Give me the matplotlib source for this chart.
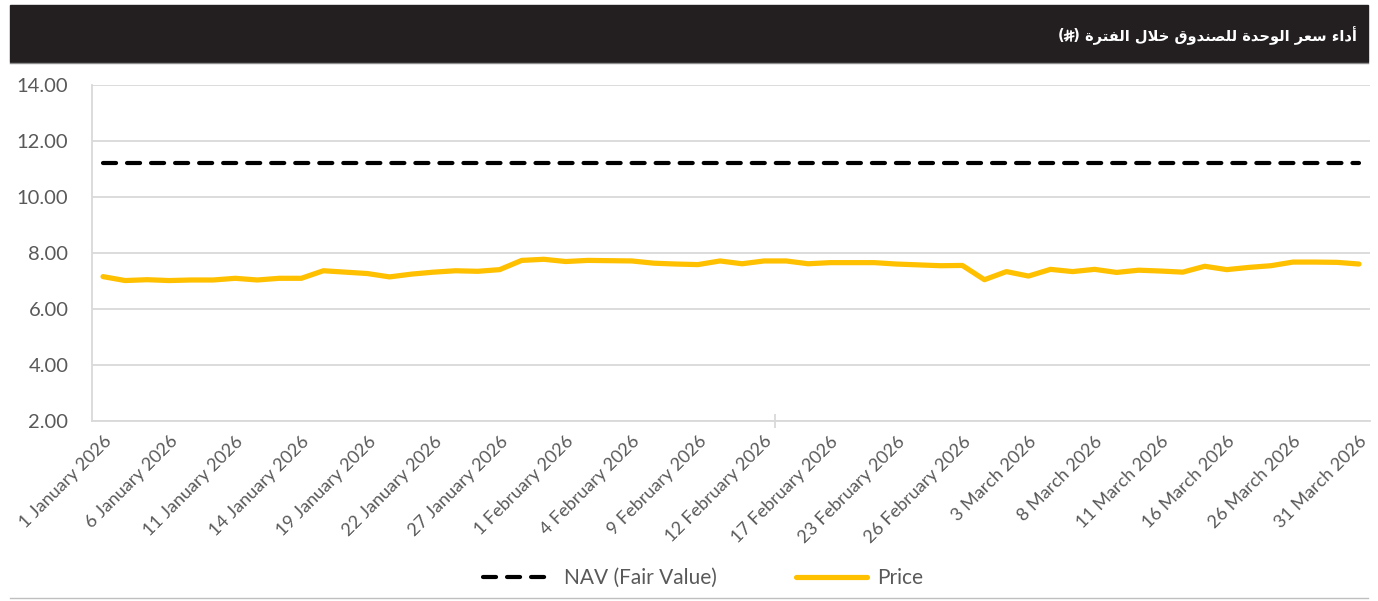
import numpy as np
import matplotlib
matplotlib.use('Agg')
from matplotlib import pyplot as plt
from matplotlib.patches import Rectangle
from matplotlib.lines import Line2D

# the riyal sign after the title has no glyph in any installed font, it is drawn with lines
title = 'أداء سعر الوحدة للصندوق خلال الفترة'

tick_labels = ['1 January 2026', '6 January 2026', '11 January 2026', '14 January 2026',
               '19 January 2026', '22 January 2026', '27 January 2026', '1 February 2026',
               '4 February 2026', '9 February 2026', '12 February 2026', '17 February 2026',
               '23 February 2026', '26 February 2026', '3 March 2026', '8 March 2026',
               '11 March 2026', '16 March 2026', '26 March 2026', '31 March 2026']

price = [7.15, 7.01, 7.04, 7.01, 7.03, 7.03, 7.09, 7.03, 7.09, 7.09,
         7.36, 7.31, 7.26, 7.14, 7.24, 7.31, 7.36, 7.34, 7.40, 7.73,
         7.77, 7.69, 7.73, 7.72, 7.71, 7.63, 7.60, 7.58, 7.71, 7.61,
         7.71, 7.71, 7.61, 7.65, 7.65, 7.65, 7.60, 7.57, 7.54, 7.55,
         7.04, 7.33, 7.17, 7.41, 7.33, 7.41, 7.30, 7.38, 7.35, 7.31,
         7.52, 7.40, 7.48, 7.54, 7.67, 7.67, 7.66, 7.60]
nav_value = 11.21

# arabic presentation forms: first form, number of forms (isolated, final, initial, medial)
FORMS = {
    'ء': (0xFE80, 1), 'آ': (0xFE81, 2), 'أ': (0xFE83, 2), 'ؤ': (0xFE85, 2), 'إ': (0xFE87, 2),
    'ئ': (0xFE89, 4), 'ا': (0xFE8D, 2), 'ب': (0xFE8F, 4), 'ة': (0xFE93, 2), 'ت': (0xFE95, 4),
    'ث': (0xFE99, 4), 'ج': (0xFE9D, 4), 'ح': (0xFEA1, 4), 'خ': (0xFEA5, 4), 'د': (0xFEA9, 2),
    'ذ': (0xFEAB, 2), 'ر': (0xFEAD, 2), 'ز': (0xFEAF, 2), 'س': (0xFEB1, 4), 'ش': (0xFEB5, 4),
    'ص': (0xFEB9, 4), 'ض': (0xFEBD, 4), 'ط': (0xFEC1, 4), 'ظ': (0xFEC5, 4), 'ع': (0xFEC9, 4),
    'غ': (0xFECD, 4), 'ف': (0xFED1, 4), 'ق': (0xFED5, 4), 'ك': (0xFED9, 4), 'ل': (0xFEDD, 4),
    'م': (0xFEE1, 4), 'ن': (0xFEE5, 4), 'ه': (0xFEE9, 4), 'و': (0xFEED, 2), 'ى': (0xFEEF, 2),
    'ي': (0xFEF1, 4),
    '\ufef5': (0xFEF5, 2), '\ufef7': (0xFEF7, 2), '\ufef9': (0xFEF9, 2), '\ufefb': (0xFEFB, 2),
}


def shape(text):
    for a, lig in (('لآ', '\ufef5'), ('لأ', '\ufef7'), ('لإ', '\ufef9'), ('لا', '\ufefb')):
        text = text.replace(a, lig)
    out = []
    for i, ch in enumerate(text):
        if ch not in FORMS:
            out.append(ch)
            continue
        base, n = FORMS[ch]
        prev = text[i - 1] if i > 0 else ''
        nxt = text[i + 1] if i + 1 < len(text) else ''
        join_prev = prev in FORMS and FORMS[prev][1] == 4 and n > 1
        join_next = n == 4 and nxt in FORMS
        if join_prev and join_next:
            form = 3
        elif join_next:
            form = 2
        elif join_prev:
            form = 1
        else:
            form = 0
        out.append(chr(base + form))
    visual = ''.join(reversed(out))
    return visual.translate(str.maketrans('()', ')('))


def main():
    plt.rcParams['font.family'] = ['Lato', 'DejaVu Sans']
    plt.rcParams['lines.scale_dashes'] = False

    W, H = 1378, 601
    fig = plt.figure(figsize=(W / 100, H / 100), dpi=100)
    px = lambda x, y: (x / W, 1 - y / H)

    # header bar
    fig.patches.append(Rectangle(px(10, 62), 1358 / W, 57 / H,
                                 transform=fig.transFigure, color='#231F20', zorder=0))
    fig.lines.append(Line2D([10 / W, 1368 / W], [1 - 63 / H, 1 - 63 / H],
                            transform=fig.transFigure, color='#8c8c8c', lw=1))
    fig.lines.append(Line2D([10 / W, 1368 / W], [1 - 598 / H, 1 - 598 / H],
                            transform=fig.transFigure, color='#bfbfbf', lw=1))
    t = fig.text(*px(1357, 36), shape(title), ha='right', va='center', color='white',
                 fontsize=10.5, fontweight='bold', family=['DejaVu Sans'])
    renderer = fig.canvas.get_renderer()
    x0 = t.get_window_extent(renderer).x0
    p = fig.text((x0 - 5) / W, 1 - 36 / H, '(\u2009\u2009\u2009)', ha='right', va='center',
                 color='white', fontsize=10.5, fontweight='bold', family=['DejaVu Sans'])
    bb = p.get_window_extent(renderer)
    cx, cy = (bb.x0 + bb.x1) / 2, (bb.y0 + bb.y1) / 2 + 0.5
    for xs, ys in (([cx - 1.6, cx - 1.6, cx - 3.2], [cy + 5, cy - 3.5, cy - 5]),
                   ([cx + 1.6, cx + 1.6], [cy + 5, cy - 5]),
                   ([cx - 4.5, cx + 4.5], [cy + 0.5, cy + 2.8]),
                   ([cx - 4.5, cx + 4.5], [cy - 3, cy - 0.7])):
        fig.lines.append(Line2D(np.array(xs) / W, np.array(ys) / H, transform=fig.transFigure,
                                color='white', lw=1.3, solid_capstyle='round'))

    ax = fig.add_axes([92 / W, (H - 420.7) / H, (1370 - 92) / W, (420.7 - 85) / H])
    x = np.arange(len(price))
    nav = np.full(len(price), nav_value)

    ax.plot(x, nav, color='black', lw=3, dashes=(9.4, 7.9), dash_capstyle='round',
            label='NAV (Fair Value)', zorder=3)
    ax.plot(x, price, color='#FFC000', lw=3.75, solid_capstyle='round',
            solid_joinstyle='round', label='Price', zorder=3)

    ax.set_xlim(-0.5, len(price) - 0.5)
    ax.set_ylim(2, 14)
    ax.set_yticks(np.arange(2, 15, 2))
    ax.set_yticklabels(['%.2f' % v for v in np.arange(2, 15, 2)])
    ax.yaxis.grid(True, color='#d9d9d9', lw=1.3)
    ax.set_axisbelow(True)

    ax.set_xticks(x[::3])
    ax.set_xticklabels(tick_labels, rotation=45, ha='right', rotation_mode='anchor')
    ax.set_xticks([30.5], minor=True)

    for s in ('top', 'right'):
        ax.spines[s].set_visible(False)
    for s in ('left', 'bottom'):
        ax.spines[s].set_color('#d9d9d9')
        ax.spines[s].set_linewidth(1.3)

    ax.tick_params(axis='y', length=0, pad=17, labelsize=14.5, labelcolor='#595959')
    ax.tick_params(axis='x', which='major', length=0, pad=9, labelsize=13, labelcolor='#595959')
    ax.tick_params(axis='x', which='minor', length=10, direction='inout', color='#d9d9d9', width=1.3)

    fig.legend(*ax.get_legend_handles_labels(), loc='center', bbox_to_anchor=(703 / W, 23 / H),
               ncol=2, frameon=False, fontsize=15, labelcolor='#595959',
               handlelength=3.4, handletextpad=0.5, columnspacing=3.8)

    fig.savefig('out.png', dpi=100)


if __name__ == '__main__':
    main()
